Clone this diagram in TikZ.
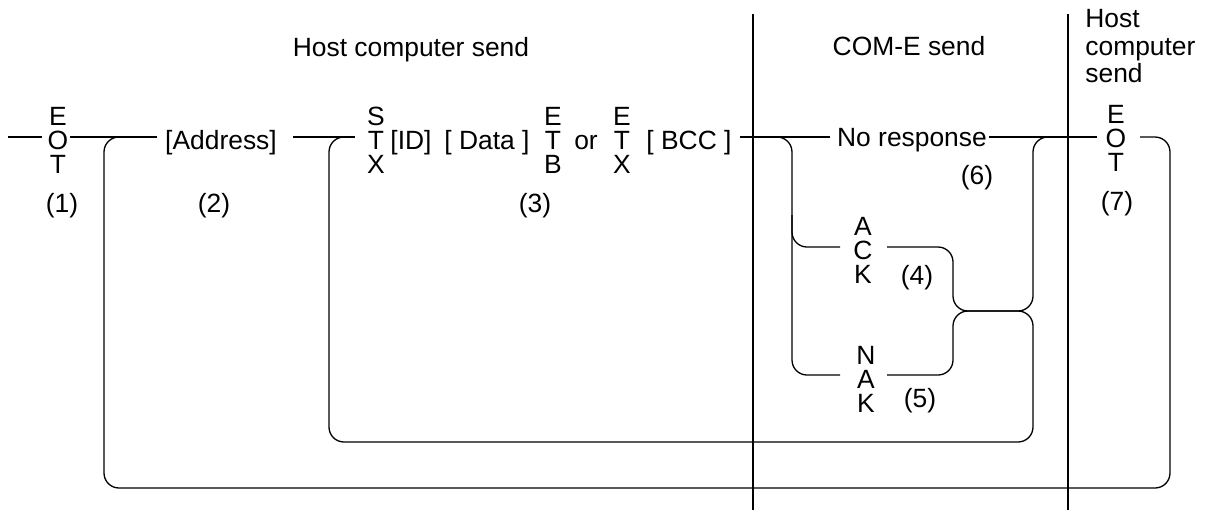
\documentclass[tikz,border=0pt]{standalone}
\usepackage{fontspec}
\setmainfont{Liberation Sans}
\begin{document}
\begin{tikzpicture}[x=0.5pt,y=-0.5pt,
  ln/.style={line width=0.65pt, rounded corners=7.5pt},
  sep/.style={line width=0.65pt},
  lbl/.style={inner sep=0pt, font=\fontsize{13.2}{13.75}\selectfont},
  stk/.style={inner sep=0pt, align=center, font=\fontsize{13.2}{12}\selectfont}]
\useasboundingbox (0,0) rectangle (1207,510);

% headings
\node[lbl, anchor=base] (hhost) at (411,56) {Host computer send};
\node[lbl, anchor=base] (hcom) at (909,55) {COM-E send};
\node[lbl, anchor=north west, align=left] (hhost2) at (1085,9) {Host\\computer\\send};

% separators
\coordinate (v1t) at (753,14); \coordinate (v1b) at (753,510);
\coordinate (v2t) at (1068,14); \coordinate (v2b) at (1068,510);
\draw[sep] (v1t) -- (v1b);
\draw[sep] (v2t) -- (v2b);

% text on main line
\node[stk] (eot1) at (58,140) {E\\O\\T};
\node[lbl, anchor=base] (addr) at (221,149) {[Address]};
\node[stk] (stx) at (376,140) {S\\T\\X};
\node[lbl, anchor=base] (id) at (411,149) {[ID]};
\node[lbl, anchor=base] (data) at (487,149) {[ Data ]};
\node[stk] (etb) at (553,140) {E\\T\\B};
\node[lbl, anchor=base] (or) at (586,149) {or};
\node[stk] (etx) at (622,140) {E\\T\\X};
\node[lbl, anchor=base] (bcc) at (689,149) {[ BCC ]};
\node[lbl, anchor=base] (nores) at (912,146) {No response};
\node[stk] (eot7) at (1116,138) {E\\O\\T};
\node[stk] (ack) at (863,250) {A\\C\\K};
\node[stk] (nak) at (866,379) {N\\A\\K};

% numbers
\node[lbl] (n1) at (62,206) {(1)};
\node[lbl] (n2) at (214,206) {(2)};
\node[lbl] (n3) at (535,206) {(3)};
\node[lbl] (n4) at (917,278) {(4)};
\node[lbl] (n5) at (920,401) {(5)};
\node[lbl] (n6) at (977,178) {(6)};
\node[lbl] (n7) at (1117,204) {(7)};

% main line segments
\coordinate (in) at (8,137);
\draw[ln] (in) -- (42,137);
\draw[ln] (70,137) -- (157,137);
\draw[ln] (293,137) -- (355,137);
\draw[ln] (740,137) -- (830,137);
\draw[ln] (989,137) -- (1097,137);

% outer loop (back to EOT)
\draw[ln] (1140,137) -- (1170,137) -- (1170,488) -- (104,488) -- (104,137) -- (120,137);
% COM-E branches
\draw[ln] (777,137) -- (792,137) -- (792,375) -- (840,375);
\draw[ln] (792,215) -- (792,247) -- (840,247);
% ACK path
\draw[ln] (887,247) -- (953,247) -- (953,311) -- (1033,311) -- (1033,137) -- (1048,137);
% NAK path (inner loop)
\draw[ln] (887,375) -- (953,375) -- (953,311) -- (1033,311) -- (1033,442) -- (329,442) -- (329,137) -- (345,137);
\end{tikzpicture}
\end{document}
